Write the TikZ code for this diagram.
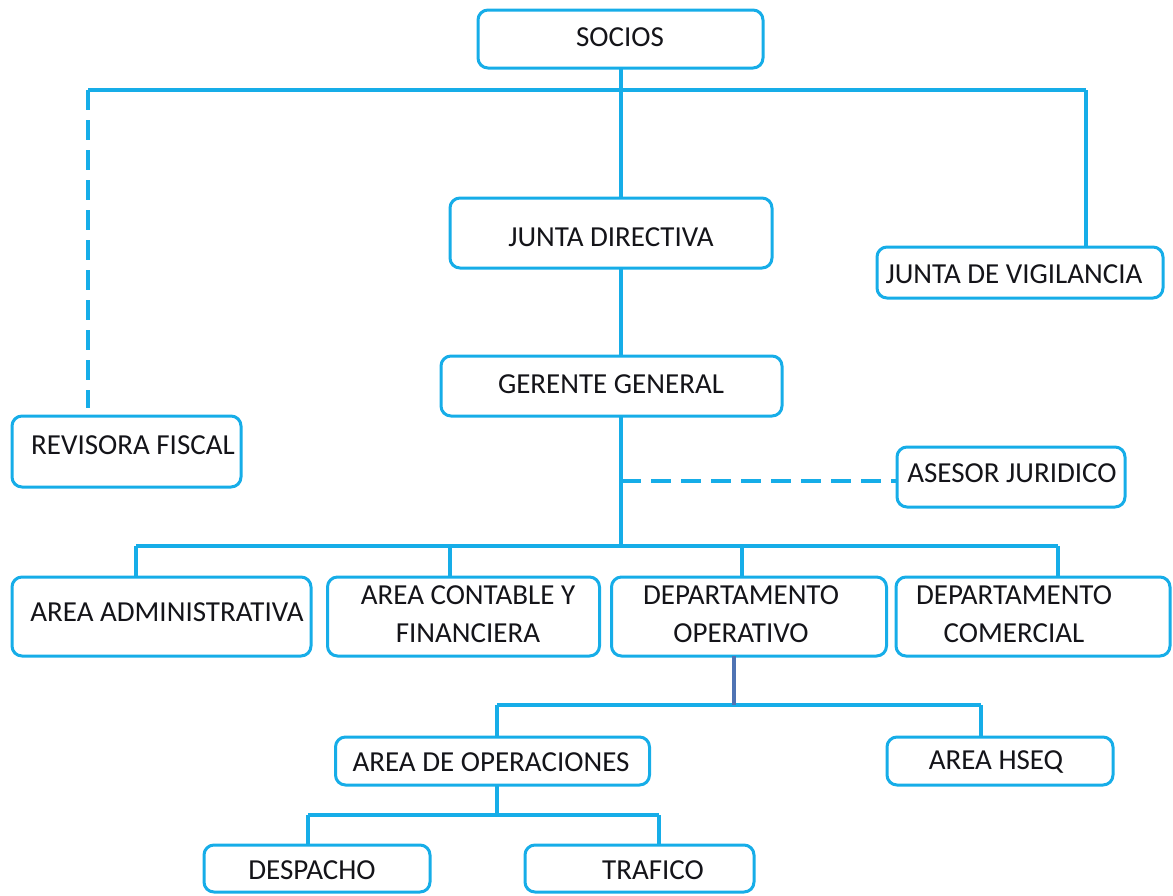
\documentclass[tikz,border=0pt]{standalone}
\usepackage{fontspec}
\setmainfont{Carlito}
\definecolor{cyanline}{RGB}{22,173,232}
\definecolor{darkline}{RGB}{79,115,180}
\definecolor{txtcol}{RGB}{20,20,25}
\begin{document}
\begin{tikzpicture}[x=0.5pt,y=-0.5pt,
  box/.style={draw=cyanline, line width=1.5pt, rounded corners=5pt, fill=white, inner sep=0pt, outer sep=0pt},
  txt/.style={text=txtcol, font=\fontsize{14.5}{19}\selectfont, align=center, inner sep=0pt},
  conn/.style={draw=cyanline, line width=1.6pt},
  dconn/.style={conn, dash pattern=on 10pt off 5pt},
  dkconn/.style={draw=darkline, line width=1.6pt}]
\useasboundingbox (0,0) rectangle (1173,895);

% boxes
\node[box, minimum width=142.5pt, minimum height=29pt] (socios) at (620.5,39) {};
\node[box, minimum width=161pt, minimum height=35pt] (jd) at (611,233) {};
\node[box, minimum width=143pt, minimum height=25.5pt] (jv) at (1020,272.5) {};
\node[box, minimum width=114.5pt, minimum height=35.5pt] (rf) at (126.5,451.5) {};
\node[box, minimum width=170.5pt, minimum height=30pt] (gg) at (611.5,386) {};
\node[box, minimum width=114pt, minimum height=30pt] (aj) at (1011,477) {};
\node[box, minimum width=149.5pt, minimum height=39.5pt] (aa) at (161.5,616.5) {};
\node[box, minimum width=136pt, minimum height=39.5pt] (ac) at (463.5,616.5) {};
\node[box, minimum width=137.5pt, minimum height=39.5pt] (dop) at (749,616.5) {};
\node[box, minimum width=137pt, minimum height=39.5pt] (dco) at (1033,616.5) {};
\node[box, minimum width=157pt, minimum height=24pt] (ao) at (492.5,761) {};
\node[box, minimum width=113pt, minimum height=24pt] (hseq) at (1000,761) {};
\node[box, minimum width=113pt, minimum height=23.5pt] (desp) at (317,868.5) {};
\node[box, minimum width=114.5pt, minimum height=23.5pt] (traf) at (639.5,868.5) {};

% texts
\node[txt] (socios-t) at (620,37) {SOCIOS};
\node[txt] (jd-t) at (611,237) {JUNTA DIRECTIVA};
\node[txt] (jv-t) at (1014,274) {JUNTA DE VIGILANCIA};
\node[txt] (rf-t) at (133,445) {REVISORA FISCAL};
\node[txt] (gg-t) at (611,384) {GERENTE GENERAL};
\node[txt] (aj-t) at (1012,473) {ASESOR JURIDICO};
\node[txt] (aa-t) at (167,612) {AREA ADMINISTRATIVA};
\node[txt] (ac-t) at (468,614) {AREA CONTABLE Y\\FINANCIERA};
\node[txt] (dop-t) at (741,614) {DEPARTAMENTO\\OPERATIVO};
\node[txt] (dco-t) at (1014,614) {DEPARTAMENTO\\COMERCIAL};
\node[txt] (ao-t) at (491,762) {AREA DE OPERACIONES};
\node[txt] (hseq-t) at (996,762) {AREA HSEQ};
\node[txt] (desp-t) at (312,870) {DESPACHO};
\node[txt] (traf-t) at (653,870) {TRAFICO};

% junction coordinates
\coordinate (trunk) at (621,90);
\coordinate (bl) at (88,90);
\coordinate (br) at (1086,90);
\coordinate (rfend) at (88,408);
\coordinate (t2) at (621,546);
\coordinate (ajs) at (621,481);
\coordinate (b2l) at (136,546);
\coordinate (b2a) at (450,546);
\coordinate (b2b) at (742,546);
\coordinate (b2r) at (1058,546);
\coordinate (opd) at (734,705);
\coordinate (b3l) at (497,705);
\coordinate (b3r) at (981,705);
\coordinate (aod) at (497,815);
\coordinate (b4l) at (308,815);
\coordinate (b4r) at (659,815);

% connectors
\draw[conn] (trunk |- socios.south) -- (trunk |- jd.north);
\draw[conn] (bl) -- (br);
\draw[conn] (br) -- (br |- jv.north);
\draw[dconn] (bl) -- (rfend);
\draw[conn] (trunk |- jd.south) -- (trunk |- gg.north);
\draw[conn] (t2 |- gg.south) -- (t2);
\draw[dconn] (ajs) -- (ajs -| aj.west);
\draw[conn] (b2l) -- (b2r);
\draw[conn] (b2l) -- (b2l |- aa.north);
\draw[conn] (b2a) -- (b2a |- ac.north);
\draw[conn] (b2b) -- (b2b |- dop.north);
\draw[conn] (b2r) -- (b2r |- dco.north);
\draw[conn] (b3l) -- (b3r);
\draw[dkconn] (opd |- dop.south) -- (opd);
\draw[conn] (b3l) -- (b3l |- ao.north);
\draw[conn] (b3r) -- (b3r |- hseq.north);
\draw[conn] (b3l |- ao.south) -- (aod);
\draw[conn] (b4l) -- (b4r);
\draw[conn] (b4l) -- (b4l |- desp.north);
\draw[conn] (b4r) -- (b4r |- traf.north);
\end{tikzpicture}
\end{document}
